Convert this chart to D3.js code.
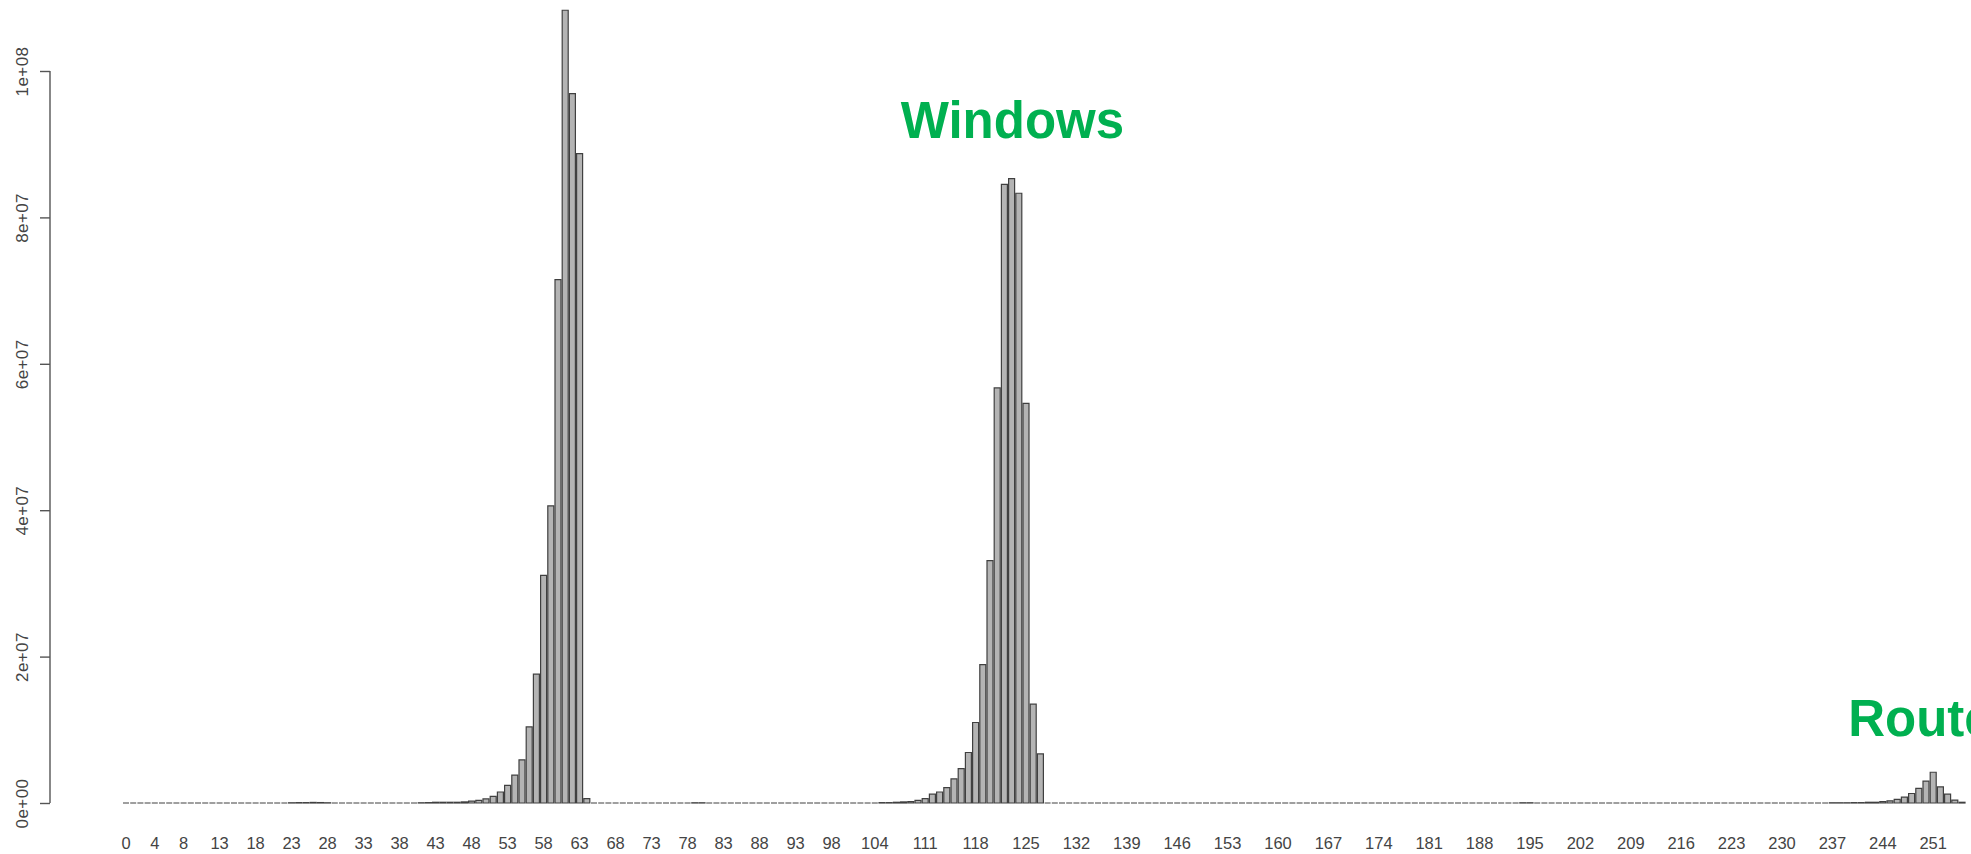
<!DOCTYPE html>
<html>
<head>
    <meta charset="utf-8">
    <title>TTL histogram</title>
    <script src="https://cdn.jsdelivr.net/npm/d3@7"></script>
    <style>
        body { margin: 0; background: #fff; }
        text { font-family: "Liberation Sans", Arial, Helvetica, sans-serif; }
    </style>
</head>

<body>
    <script>
        // packets seen per TTL value 0..255, in millions
        var ttlValues = d3.range(256);
        var packetsMillions = [
          // 0 - 19
          0, 0, 0, 0, 0, 0, 0, 0, 0, 0, 0, 0, 0, 0, 0, 0, 0, 0, 0, 0,
          // 20 - 39
          0, 0, 0, 0.03, 0.05, 0.05, 0.08, 0.06, 0.03, 0, 0, 0, 0, 0, 0, 0, 0, 0, 0, 0,
          // 40 - 59
          0, 0.03, 0.05, 0.1, 0.1, 0.1, 0.1, 0.15, 0.25, 0.35, 0.55, 0.9, 1.5, 2.4, 3.8, 5.9, 10.4, 17.6, 31.1, 40.6,
          // 60 - 79
          71.5, 108.3, 96.9, 88.7, 0.6, 0, 0, 0, 0, 0, 0, 0, 0, 0, 0, 0, 0, 0, 0, 0.03,
          // 80 - 99
          0.03, 0, 0, 0, 0, 0, 0, 0, 0, 0, 0, 0, 0, 0, 0, 0, 0, 0, 0, 0,
          // 100 - 119
          0, 0, 0, 0, 0, 0.05, 0.05, 0.1, 0.15, 0.2, 0.35, 0.6, 1.2, 1.5, 2.1, 3.3, 4.7, 6.9, 11.0, 18.9,
          // 120 - 139
          33.1, 56.7, 84.5, 85.3, 83.3, 54.6, 13.5, 6.7, 0, 0, 0, 0, 0, 0, 0, 0, 0, 0, 0, 0,
          // 140 - 159
          0, 0, 0, 0, 0, 0, 0, 0, 0, 0, 0, 0, 0, 0, 0, 0, 0, 0, 0, 0,
          // 160 - 179
          0, 0, 0, 0, 0, 0, 0, 0, 0, 0, 0, 0, 0, 0, 0, 0, 0, 0, 0, 0,
          // 180 - 199
          0, 0, 0, 0, 0, 0, 0, 0, 0, 0, 0, 0, 0, 0, 0.03, 0.03, 0, 0, 0, 0,
          // 200 - 219
          0, 0, 0, 0, 0, 0, 0, 0, 0, 0, 0, 0, 0, 0, 0, 0, 0, 0, 0, 0,
          // 220 - 239
          0, 0, 0, 0, 0, 0, 0, 0, 0, 0, 0, 0, 0, 0, 0, 0, 0, 0.03, 0.03, 0.03,
          // 240 - 255
          0.05, 0.05, 0.1, 0.1, 0.2, 0.3, 0.5, 0.8, 1.3, 2.0, 3.0, 4.2, 2.2, 1.2, 0.4, 0.1
        ];

        // R drops labels that would overlap, so only these names are printed
        var xTickLabels = [0, 4, 8, 13, 18, 23, 28, 33, 38, 43, 48, 53, 58, 63, 68, 73, 78, 83, 88, 93, 98,
                           104, 111, 118, 125, 132, 139, 146, 153, 160, 167, 174, 181, 188, 195, 202, 209,
                           216, 223, 230, 237, 244, 251];
        var yTicks = [0, 20, 40, 60, 80, 100];   // millions

        var osLabels = ["Windows", "Routers"];
        var osLabelTtl = [107.6, 239.2];      // where each label starts, on the ttl axis
        var osLabelValue = [90.9, 9.2];       // label baseline, in millions

        var dataset = ttlValues.map(function(t, i) {
          return {ttl: t, value: packetsMillions[i]};
        });

        var width = 1971;
        var height = 854;

        var xScale = d3.scaleBand()
                    .domain(ttlValues)
                    .range([122.4, 1965.6])
                    .paddingInner(0.2 / 1.2)
                    .paddingOuter(0.1 / 1.2);

        // used only to place the text labels between bars
        var xLinear = d3.scaleLinear()
                    .domain([0, 255])
                    .range([xScale(0) + xScale.bandwidth() / 2, xScale(255) + xScale.bandwidth() / 2]);

        var yScale = d3.scaleLinear()
                    .domain([0, 100])
                    .range([803, 71]);

        var svg = d3.select("body").append("svg")
            .attr("width", width)
            .attr("height", height);

        // bars as closed paths so that zero bars still show their outline
        svg.selectAll("path.bar")
            .data(dataset)
            .enter()
            .append("path")
            .attr("class", "bar")
            .attr("d", function(d) {
              var x0 = xScale(d.ttl);
              var x1 = x0 + xScale.bandwidth();
              var y0 = yScale(0);
              var y1 = yScale(d.value);
              return "M" + x0 + "," + y0 + "H" + x1 + "V" + y1 + "H" + x0 + "Z";
            })
            .attr("fill", "#b4b4b4")
            .attr("stroke", "#404040")
            .attr("stroke-width", 1.2);

        // y axis, R style: 0e+00 ... 1e+08, labels parallel to the axis
        function sci(v) {
          var s = d3.format(".0e")(v * 1e6);
          var parts = s.split("e");
          var exp = parts[1];
          var sign = exp.charAt(0);
          var digits = exp.slice(1);
          if (digits.length < 2) digits = "0" + digits;
          return parts[0] + "e" + sign + digits;
        }

        var yAxis = d3.axisLeft(yScale)
            .tickValues(yTicks)
            .tickFormat(sci)
            .tickSize(10)
            .tickPadding(4);

        var gy = svg.append("g")
            .attr("transform", "translate(50,0)")
            .call(yAxis);

        gy.select(".domain")
            .attr("d", "M0," + yScale(0) + "V" + yScale(100))
            .attr("stroke", "#555")
            .attr("stroke-width", 1.4);

        gy.selectAll(".tick line")
            .attr("stroke", "#555")
            .attr("stroke-width", 1.4);

        gy.selectAll(".tick text")
            .attr("x", null)
            .attr("dy", null)
            .attr("text-anchor", "middle")
            .attr("transform", "translate(-22,0) rotate(-90)")
            .attr("fill", "#444")
            .style("font-size", "17px")
            .style("letter-spacing", "0.4px");

        // x names under the bars, no axis line
        svg.append("g")
            .selectAll("text")
            .data(xTickLabels)
            .enter()
            .append("text")
            .attr("x", function(d) {
              return xScale(d) + xScale.bandwidth() / 2;
            })
            .attr("y", 849)
            .attr("text-anchor", "middle")
            .attr("fill", "#444")
            .style("font-size", "16.5px")
            .text(function(d) { return d; });

        // annotations
        svg.selectAll("text.os")
            .data(osLabels)
            .enter()
            .append("text")
            .attr("class", "os")
            .attr("x", function(d, i) { return xLinear(osLabelTtl[i]); })
            .attr("y", function(d, i) { return yScale(osLabelValue[i]); })
            .attr("fill", "#00b050")
            .style("font-size", "51px")
            .style("font-weight", "bold")
            .text(function(d) { return d; });
    </script>
</body>
</html>
